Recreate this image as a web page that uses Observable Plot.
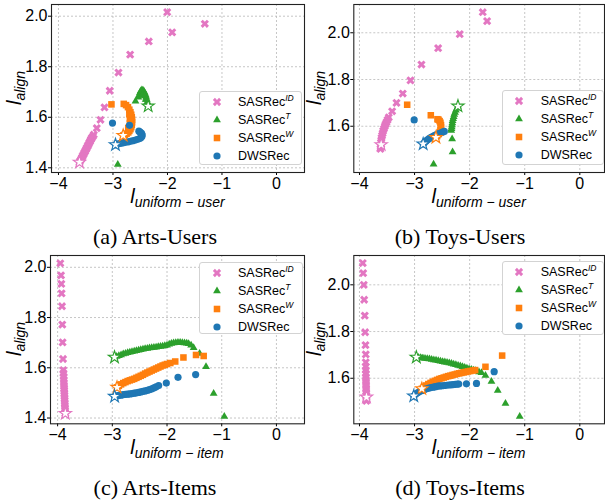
<!DOCTYPE html>
<html><head><meta charset="utf-8">
<script src="https://cdn.jsdelivr.net/npm/d3@7"></script>
<script src="https://cdn.jsdelivr.net/npm/@observablehq/plot@0.6"></script>
<style>
body{margin:0;background:#fff;}
#root{position:relative;width:605px;height:504px;overflow:hidden;background:#fff;font-family:"Liberation Sans",Arial,sans-serif;}
.panel{position:absolute;}
.xlab,.ylab{position:absolute;font-family:"Liberation Sans",Arial,sans-serif;font-style:italic;font-size:20px;color:#000;white-space:nowrap;line-height:20px;}
.xlab{text-align:center;}
.xlab sub,.ylab sub{font-size:14px;vertical-align:-4px;line-height:0;}
.ylab{transform:translate(-50%,-50%) rotate(-90deg);transform-origin:center;}
.cap{position:absolute;font-family:"Liberation Serif","Times New Roman",serif;font-size:22px;white-space:nowrap;line-height:22px;text-align:center;color:#000;}
.leg{position:absolute;background:#fff;border:1px solid #d3d3d3;border-radius:3px;box-sizing:border-box;}
.leg .lt{position:absolute;font-size:12.5px;line-height:12px;white-space:nowrap;color:#000;}
.leg .lt sup{font-size:8.5px;font-style:italic;vertical-align:0;position:relative;top:-5px;line-height:0;}
.leg svg{position:absolute;overflow:visible;}
</style></head>
<body><div id="root"></div>
<script>
// ---------------- data ----------------
const seriesLabels = ["SASRec", "SASRec", "SASRec", "DWSRec"];
const seriesSup = ["ID", "T", "W", ""];
const seriesColors = ["#e377c2", "#2ca02c", "#ff7f0e", "#1f77b4"];
const xTicks = [-4, -3, -2, -1, 0];
const yTicksArts = [1.4, 1.6, 1.8, 2.0];
const yTicksToys = [1.6, 1.8, 2.0];
const captions = ["(a) Arts-Users", "(b) Toys-Users", "(c) Arts-Items", "(d) Toys-Items"];
const xLabelSubs = ["uniform \u2212 user", "uniform \u2212 user", "uniform \u2212 item", "uniform \u2212 item"];

// (a) Arts-Users  — first point of each series is the starred one
const aID = [[-3.615,1.422],[-3.60,1.428],[-3.585,1.434],[-3.57,1.440],[-3.555,1.447],[-3.54,1.453],[-3.525,1.460],[-3.51,1.466],[-3.495,1.473],[-3.48,1.479],[-3.465,1.486],[-3.45,1.492],[-3.435,1.499],[-3.42,1.505],[-3.405,1.512],[-3.39,1.518],[-3.37,1.524],[-3.352,1.531],[-3.297,1.557],[-3.229,1.590],[-3.156,1.639],[-3.059,1.705],[-2.899,1.777],[-2.685,1.848],[-2.343,1.900],[-2.005,2.016],[-1.914,1.936],[-1.315,1.970]];
const aT = [[-2.354,1.644],[-2.36,1.652],[-2.37,1.661],[-2.38,1.670],[-2.39,1.679],[-2.40,1.687],[-2.415,1.695],[-2.43,1.702],[-2.45,1.707],[-2.47,1.708],[-2.49,1.704],[-2.505,1.697],[-2.52,1.688],[-2.535,1.679],[-2.44,1.693],[-2.46,1.688],[-2.42,1.684],[-2.40,1.670],[-2.587,1.663],[-2.912,1.413]];
const aW = [[-2.813,1.528],[-2.78,1.531],[-2.75,1.535],[-2.72,1.540],[-2.70,1.546],[-2.68,1.553],[-2.665,1.561],[-2.655,1.570],[-2.65,1.580],[-2.65,1.590],[-2.655,1.600],[-2.665,1.610],[-2.68,1.620],[-2.70,1.630],[-2.725,1.640],[-2.76,1.648],[-2.802,1.653],[-2.69,1.575],[-2.69,1.595],[-2.70,1.612],[-2.72,1.558],[-3.028,1.651]];
const aDWS = [[-2.954,1.491],[-2.92,1.494],[-2.88,1.496],[-2.84,1.498],[-2.80,1.500],[-2.76,1.502],[-2.72,1.503],[-2.68,1.505],[-2.64,1.507],[-2.60,1.509],[-2.56,1.512],[-2.52,1.515],[-2.49,1.519],[-2.47,1.524],[-2.465,1.530],[-2.475,1.536],[-2.50,1.541],[-2.525,1.545],[-2.697,1.568],[-3.009,1.577]];

// (b) Toys-Users
const bID = [[-3.606,1.521],[-3.619,1.503],[-3.615,1.512],[-3.61,1.530],[-3.605,1.540],[-3.60,1.550],[-3.59,1.560],[-3.58,1.570],[-3.57,1.580],[-3.555,1.590],[-3.54,1.600],[-3.528,1.608],[-3.51,1.617],[-3.49,1.627],[-3.468,1.638],[-3.407,1.664],[-3.328,1.700],[-3.214,1.740],[-3.074,1.796],[-2.875,1.864],[-2.572,1.934],[-2.180,1.994],[-1.762,2.088],[-1.683,2.050]];
const bT = [[-2.212,1.686],[-2.23,1.677],[-2.25,1.668],[-2.265,1.659],[-2.28,1.650],[-2.29,1.641],[-2.30,1.632],[-2.31,1.623],[-2.315,1.614],[-2.32,1.605],[-2.325,1.597],[-2.33,1.589],[-2.335,1.582],[-2.318,1.545],[-2.310,1.490],[-2.655,1.437]];
const bW = [[-2.612,1.552],[-2.59,1.558],[-2.565,1.566],[-2.545,1.575],[-2.53,1.585],[-2.52,1.595],[-2.52,1.605],[-2.53,1.615],[-2.545,1.622],[-2.565,1.628],[-2.585,1.630],[-2.705,1.647],[-3.134,1.692]];
const bDWS = [[-2.844,1.524],[-2.82,1.530],[-2.79,1.537],[-2.76,1.543],[-2.73,1.548],[-2.70,1.552],[-2.67,1.556],[-2.64,1.560],[-2.61,1.563],[-2.58,1.566],[-2.55,1.569],[-2.52,1.572],[-2.49,1.575],[-2.46,1.578],[-3.007,1.627]];

// (c) Arts-Items
const cID = [[-3.859,1.418],[-3.862,1.428],[-3.865,1.438],[-3.867,1.448],[-3.869,1.458],[-3.871,1.468],[-3.873,1.478],[-3.875,1.488],[-3.877,1.498],[-3.879,1.508],[-3.881,1.518],[-3.883,1.528],[-3.885,1.540],[-3.887,1.552],[-3.889,1.565],[-3.892,1.578],[-3.896,1.591],[-3.901,1.635],[-3.909,1.701],[-3.914,1.772],[-3.920,1.845],[-3.927,1.896],[-3.932,1.934],[-3.938,1.968],[-3.951,2.016]];
const cT = [[-2.960,1.642],[-2.92,1.645],[-2.88,1.648],[-2.84,1.651],[-2.80,1.655],[-2.76,1.657],[-2.72,1.660],[-2.68,1.662],[-2.64,1.664],[-2.60,1.666],[-2.56,1.668],[-2.52,1.670],[-2.48,1.672],[-2.44,1.674],[-2.40,1.676],[-2.36,1.677],[-2.32,1.679],[-2.28,1.680],[-2.24,1.681],[-2.20,1.682],[-2.16,1.684],[-2.12,1.685],[-2.08,1.686],[-2.04,1.688],[-2.00,1.690],[-1.96,1.694],[-1.92,1.697],[-1.88,1.699],[-1.84,1.700],[-1.80,1.701],[-1.76,1.701],[-1.72,1.700],[-1.68,1.699],[-1.64,1.698],[-1.605,1.696],[-1.56,1.690],[-1.514,1.680],[-1.404,1.657],[-1.287,1.604],[-1.148,1.498],[-0.953,1.406]];
const cW = [[-2.914,1.522],[-2.88,1.528],[-2.84,1.534],[-2.80,1.539],[-2.76,1.543],[-2.72,1.547],[-2.68,1.550],[-2.64,1.553],[-2.60,1.556],[-2.56,1.560],[-2.52,1.564],[-2.48,1.568],[-2.44,1.572],[-2.40,1.577],[-2.36,1.581],[-2.32,1.585],[-2.28,1.589],[-2.24,1.593],[-2.20,1.597],[-2.16,1.601],[-2.12,1.605],[-2.08,1.609],[-2.04,1.612],[-2.00,1.615],[-1.94,1.619],[-1.85,1.625],[-1.70,1.641],[-1.47,1.651],[-1.33,1.647]];
const cDWS = [[-2.958,1.486],[-2.92,1.488],[-2.88,1.490],[-2.84,1.491],[-2.80,1.493],[-2.76,1.494],[-2.72,1.495],[-2.68,1.496],[-2.64,1.497],[-2.60,1.499],[-2.56,1.500],[-2.52,1.502],[-2.48,1.504],[-2.44,1.506],[-2.40,1.508],[-2.36,1.510],[-2.32,1.513],[-2.28,1.516],[-2.24,1.520],[-2.20,1.524],[-2.153,1.529],[-2.013,1.539],[-1.799,1.562],[-1.477,1.573]];

// (d) Toys-Items
const dID = [[-3.873,1.519],[-3.875,1.503],[-3.876,1.512],[-3.876,1.525],[-3.877,1.535],[-3.878,1.545],[-3.879,1.556],[-3.880,1.568],[-3.881,1.580],[-3.882,1.592],[-3.883,1.605],[-3.884,1.620],[-3.885,1.635],[-3.886,1.650],[-3.886,1.668],[-3.886,1.702],[-3.891,1.742],[-3.897,1.797],[-3.904,1.868],[-3.915,1.936],[-3.922,2.000],[-3.933,2.050],[-3.940,2.093]];
const dT = [[-2.968,1.690],[-2.93,1.689],[-2.89,1.688],[-2.85,1.686],[-2.81,1.685],[-2.77,1.683],[-2.73,1.682],[-2.69,1.680],[-2.65,1.678],[-2.61,1.677],[-2.57,1.675],[-2.53,1.673],[-2.49,1.671],[-2.45,1.669],[-2.41,1.667],[-2.37,1.665],[-2.33,1.663],[-2.29,1.660],[-2.25,1.658],[-2.21,1.655],[-2.17,1.652],[-2.13,1.649],[-2.09,1.646],[-2.05,1.643],[-2.01,1.640],[-1.97,1.637],[-1.93,1.634],[-1.894,1.632],[-1.83,1.627],[-1.785,1.624],[-1.713,1.612],[-1.604,1.586],[-1.490,1.548],[-1.350,1.492],[-1.091,1.436]];
const dW = [[-2.868,1.555],[-2.83,1.562],[-2.79,1.569],[-2.75,1.575],[-2.71,1.580],[-2.67,1.585],[-2.63,1.589],[-2.59,1.593],[-2.55,1.597],[-2.51,1.600],[-2.47,1.603],[-2.43,1.606],[-2.39,1.609],[-2.35,1.611],[-2.31,1.614],[-2.27,1.616],[-2.23,1.619],[-2.19,1.621],[-2.15,1.623],[-2.11,1.625],[-2.07,1.627],[-2.03,1.629],[-1.99,1.631],[-1.94,1.633],[-1.90,1.635],[-1.713,1.649],[-1.410,1.697]];
const dDWS = [[-3.014,1.524],[-2.98,1.532],[-2.94,1.539],[-2.90,1.544],[-2.86,1.548],[-2.82,1.552],[-2.78,1.555],[-2.74,1.558],[-2.70,1.560],[-2.66,1.562],[-2.62,1.564],[-2.58,1.566],[-2.54,1.567],[-2.50,1.568],[-2.46,1.569],[-2.42,1.570],[-2.38,1.571],[-2.34,1.572],[-2.30,1.573],[-2.26,1.574],[-2.22,1.575],[-2.198,1.575],[-2.058,1.576],[-1.876,1.578],[-1.555,1.628]];

// ---------------- layout ----------------
const symbolX = { draw(context, size) {
  const r = Math.sqrt(size / 5) / 2, c = Math.SQRT1_2;
  const pts = [[-3*r,-r],[-r,-r],[-r,-3*r],[r,-3*r],[r,-r],[3*r,-r],[3*r,r],[r,r],[r,3*r],[-r,3*r],[-r,r],[-3*r,r]];
  pts.forEach(([x,y],i)=>{const X=(x-y)*c, Y=(x+y)*c; i ? context.lineTo(X,Y) : context.moveTo(X,Y);});
  context.closePath();
}};
const symbols = [symbolX, "triangle", "square", "circle"];
const symObjs = [symbolX, d3.symbolTriangle, d3.symbolSquare, d3.symbolCircle];
const radii = [3.7, 2.9, 3.7, 3.6];

const panels = [
  {data:[aID,aT,aW,aDWS], yTicks:yTicksArts, left:0,   top:0,   ml:51,   mr:1, mt:4, mb:28,   xd:[-4.128,0.514], yd:[1.3814,2.0463], leg:{l:199,t:91,w:103,h:74}, capX:155, capY:226},
  {data:[bID,bT,bW,bDWS], yTicks:yTicksToys, left:300, top:0,   ml:53.3, mr:1, mt:4, mb:28,   xd:[-4.103,0.448], yd:[1.402,2.121],   leg:{l:501.7,t:90,w:102,h:75}, capX:460, capY:226},
  {data:[cID,cT,cW,cDWS], yTicks:yTicksArts, left:0,   top:250, ml:50,   mr:1, mt:5, mb:26.7, xd:[-4.13,0.513],  yd:[1.377,2.047],   leg:{l:199,t:261.5,w:104,h:72}, capX:155, capY:477},
  {data:[dID,dT,dW,dDWS], yTicks:yTicksToys, left:300, top:250, ml:53.3, mr:1, mt:5, mb:26.7, xd:[-4.103,0.448], yd:[1.405,2.1255],  leg:{l:501.7,t:261,w:102,h:74}, capX:460, capY:477}
];

const root = document.getElementById("root");
const fmtX = d => d < 0 ? "\u2212" + Math.abs(d) : String(d);
const fmtY = d3.format(".1f");

panels.forEach((p, k) => {
  const W = 305, Hh = 200;
  const marks = [
    Plot.gridX(xTicks, {stroke:"#b8b8b8", strokeOpacity:1, strokeDasharray:"2,2", strokeWidth:0.8}),
    Plot.gridY(p.yTicks, {stroke:"#b8b8b8", strokeOpacity:1, strokeDasharray:"2,2", strokeWidth:0.8}),
    Plot.axisX(xTicks, {tickFormat: fmtX, tickSize:3, tickPadding:2, label:null, fontSize:16}),
    Plot.axisY(p.yTicks, {tickFormat: fmtY, tickSize:3, tickPadding:1, label:null, fontSize:16})
  ];
  p.data.forEach((s, i) => {
    marks.push(Plot.dot(s, {x: d => d[0], y: d => d[1], symbol: symbols[i], r: radii[i], fill: seriesColors[i], stroke: "none"}));
  });
  p.data.forEach((s, i) => {
    marks.push(Plot.dot([s[0]], {x: d => d[0], y: d => d[1], symbol: "star", r: 3.9, fill: "white", stroke: seriesColors[i], strokeWidth: 1.1}));
  });
  marks.push(Plot.frame({stroke:"#222", strokeWidth:1.1}));
  const svg = Plot.plot({
    width: W, height: Hh,
    marginLeft: p.ml, marginRight: p.mr, marginTop: p.mt, marginBottom: p.mb,
    x: {domain: p.xd}, y: {domain: p.yd},
    style: {fontFamily: "Liberation Sans, Arial, sans-serif", fontSize: "16px", background: "transparent", color: "#000", overflow: "visible"},
    marks
  });
  svg.classList.add("panel");
  svg.style.left = p.left + "px";
  svg.style.top = p.top + "px";
  root.appendChild(svg);

  const fl = p.left + p.ml, fr = p.left + W - p.mr;
  const ft = p.top + p.mt, fb = p.top + Hh - p.mb;

  // x label
  const xl = document.createElement("div");
  xl.className = "xlab";
  xl.style.left = fl + "px"; xl.style.width = (fr - fl) + "px";
  xl.style.top = (fb + 14) + "px";
  xl.innerHTML = "l<sub>" + xLabelSubs[k] + "</sub>";
  root.appendChild(xl);

  // y label
  const yl = document.createElement("div");
  yl.className = "ylab";
  yl.style.left = (p.left + 14) + "px";
  yl.style.top = ((ft + fb) / 2) + "px";
  yl.innerHTML = "l<sub>align</sub>";
  root.appendChild(yl);

  // legend
  const lg = document.createElement("div");
  lg.className = "leg";
  lg.style.left = p.leg.l + "px"; lg.style.top = p.leg.t + "px";
  lg.style.width = p.leg.w + "px"; lg.style.height = p.leg.h + "px";
  seriesLabels.forEach((lab, i) => {
    const cy = 10 + i * 18.1;
    const m = document.createElementNS("http://www.w3.org/2000/svg", "svg");
    m.setAttribute("width", 14); m.setAttribute("height", 14);
    m.style.left = (16.5 - 7) + "px"; m.style.top = (cy - 7) + "px";
    const path = document.createElementNS("http://www.w3.org/2000/svg", "path");
    path.setAttribute("d", d3.symbol().type(symObjs[i]).size(Math.PI * radii[i] * radii[i])());
    path.setAttribute("transform", "translate(7,7)");
    path.setAttribute("fill", seriesColors[i]);
    m.appendChild(path);
    lg.appendChild(m);
    const t = document.createElement("div");
    t.className = "lt";
    t.style.left = "38px"; t.style.top = (cy - 6) + "px";
    t.innerHTML = lab + (seriesSup[i] ? "<sup>" + seriesSup[i] + "</sup>" : "");
    lg.appendChild(t);
  });
  root.appendChild(lg);

  // caption
  const cp = document.createElement("div");
  cp.className = "cap";
  cp.style.left = (p.capX - 100) + "px"; cp.style.width = "200px";
  cp.style.top = p.capY + "px";
  cp.textContent = captions[k];
  root.appendChild(cp);
});
</script></body></html>
